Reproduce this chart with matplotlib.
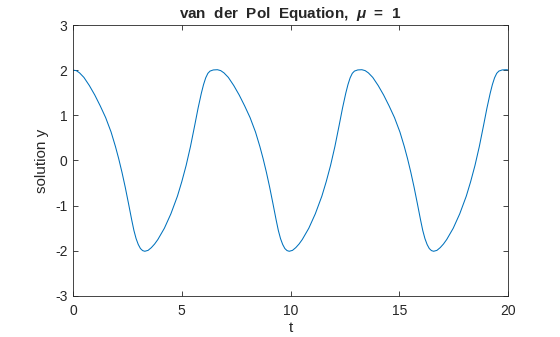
# van der Pol solution y(t), mu = 1
import numpy as np
import matplotlib
matplotlib.use('Agg')
import matplotlib.pyplot as plt

plt.rcParams['font.family'] = ['Liberation Sans', 'DejaVu Sans']
plt.rcParams['mathtext.fontset'] = 'custom'
plt.rcParams['mathtext.rm'] = 'Liberation Sans:bold'
plt.rcParams['mathtext.it'] = 'Liberation Sans:bold:italic'
plt.rcParams['axes.unicode_minus'] = False

# Input data
t = [0.00, 0.15, 0.30, 0.50, 0.75, 1.00, 1.25, 1.50, 1.75, 1.95, 2.10, 2.25,
     2.40, 2.55, 2.70, 2.80, 2.90, 3.00, 3.10, 3.20, 3.30,
     3.45, 3.60, 3.75, 3.90, 4.20, 4.50, 4.80, 5.00, 5.20, 5.40, 5.60, 5.75,
     5.90, 6.00, 6.10, 6.20, 6.30, 6.45, 6.64,
     6.79, 6.94, 7.14, 7.39, 7.64, 7.89, 8.14, 8.39, 8.59, 8.74, 8.89, 9.04,
     9.19, 9.34, 9.44, 9.54, 9.64, 9.74, 9.84, 9.94,
     10.09, 10.24, 10.39, 10.54, 10.84, 11.14, 11.44, 11.64, 11.84, 12.04,
     12.24, 12.39, 12.54, 12.64, 12.74, 12.84, 12.94, 13.09, 13.28,
     13.43, 13.58, 13.78, 14.03, 14.28, 14.53, 14.78, 15.03, 15.23, 15.38,
     15.53, 15.68, 15.83, 15.98, 16.08, 16.18, 16.28, 16.38, 16.48, 16.58,
     16.73, 16.88, 17.03, 17.18, 17.48, 17.78, 18.08, 18.28, 18.48, 18.68,
     18.88, 19.03, 19.18, 19.28, 19.38, 19.48, 19.58, 19.73, 19.92, 20.00]
y = [2.00, 1.99, 1.94, 1.84, 1.66, 1.45, 1.21, 0.95, 0.63, 0.31, 0.04, -0.26,
     -0.59, -0.95, -1.32, -1.55, -1.73, -1.86, -1.95, -1.995, -2.01,
     -1.99, -1.93, -1.85, -1.75, -1.50, -1.18, -0.79, -0.47, -0.11, 0.31, 0.79,
     1.16, 1.49, 1.68, 1.83, 1.93, 1.98, 2.005, 2.01,
     1.99, 1.94, 1.84, 1.66, 1.45, 1.21, 0.95, 0.63, 0.31, 0.04, -0.26, -0.59,
     -0.95, -1.32, -1.55, -1.73, -1.86, -1.95, -1.995, -2.01,
     -1.99, -1.93, -1.85, -1.75, -1.50, -1.18, -0.79, -0.47, -0.11, 0.31,
     0.79, 1.16, 1.49, 1.68, 1.83, 1.93, 1.98, 2.005, 2.01,
     1.99, 1.94, 1.84, 1.66, 1.45, 1.21, 0.95, 0.63, 0.31, 0.04, -0.26, -0.59,
     -0.95, -1.32, -1.55, -1.73, -1.86, -1.95, -1.995, -2.01,
     -1.99, -1.93, -1.85, -1.75, -1.50, -1.18, -0.79, -0.47, -0.11, 0.31,
     0.79, 1.16, 1.49, 1.68, 1.83, 1.93, 1.98, 2.005, 2.01, 2.005]

xticks = [0, 5, 10, 15, 20]
yticks = [-3, -2, -1, 0, 1, 2, 3]

fig = plt.figure(figsize=(5.6, 3.37), dpi=100)
ax = fig.add_axes([0.1304, 0.1217, 0.7768, 0.8041])

ax.plot(t, y, color='#0072BD', linewidth=0.75)

# MATLAB-like box axes
ax.set_xlim(0, 20)
ax.set_ylim(-3, 3)
ax.set_xticks(xticks)
ax.set_yticks(yticks)
ax.tick_params(direction='in', top=True, right=True, length=3.5, width=0.6,
               labelsize=10, colors='#262626', pad=4)
ax.tick_params(axis='x', pad=6)
for s in ax.spines.values():
    s.set_linewidth(0.6)
    s.set_color('#262626')

ax.set_xlabel('t', fontsize=11, color='#262626', labelpad=2)
ax.set_ylabel('solution y', fontsize=11, color='#262626', labelpad=4)
ax.set_title(r'van  der  Pol  Equation,  $\mu$  =  1', fontsize=11,
             fontweight='bold', color='#262626', pad=5)

fig.savefig('out.png', dpi=100)
